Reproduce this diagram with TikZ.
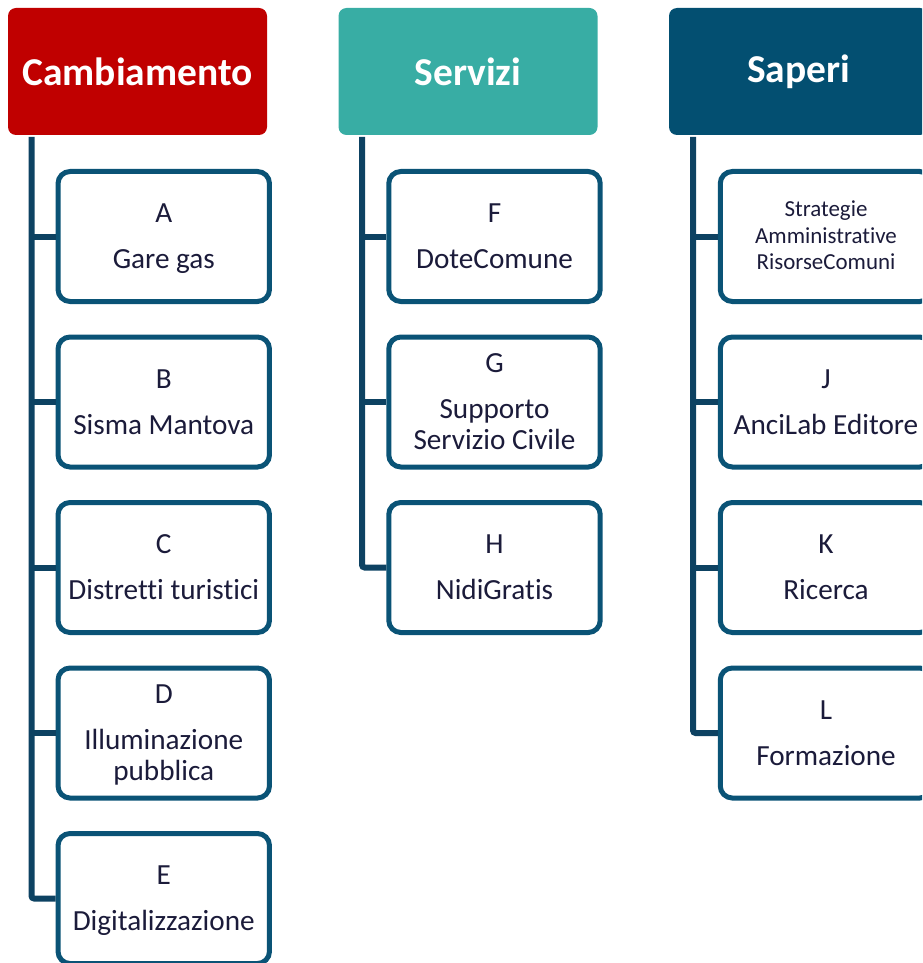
\documentclass[tikz,border=0pt]{standalone}
\usepackage{fontspec}
\setmainfont{Carlito}[Ligatures={NoCommon}]
\definecolor{redc}{HTML}{C00000}
\definecolor{tealc}{HTML}{38ADA4}
\definecolor{bluec}{HTML}{034F71}
\definecolor{bordc}{HTML}{0A5376}
\definecolor{spinec}{HTML}{0D4262}
\definecolor{txtc}{HTML}{1B1B3A}
\newcommand\mystrutA{\rule[-2.5pt]{0pt}{18.5pt}}
\newcommand\mystrutB{\rule[-3pt]{0pt}{16pt}}
\newcommand\twol[2]{\smash{#1}\mystrutA\\[11.25pt]\smash{#2}\mystrutA}
\newcommand\threel[3]{\smash{#1}\mystrutA\\[11.25pt]\smash{#2}\mystrutA\\\smash{#3}\mystrutA}
\tikzset{
  hdr/.style={rounded corners=6pt, minimum width=194.25pt, minimum height=95.25pt,
    inner sep=0pt, text=white, font=\bfseries\fontsize{29.6}{32}\selectfont},
  boxst/.style={draw=bordc, line width=3.75pt, rounded corners=9pt, fill=white,
    minimum width=158.6pt, minimum height=97.5pt, inner sep=0pt, align=center,
    text=txtc, font=\fontsize{21.9}{23.25}\selectfont},
  smalltxt/.style={font=\fontsize{17.2}{19.9}\selectfont},
  spine/.style={draw=spinec, line width=4.5pt, rounded corners=2pt}
}
\begin{document}
\begin{tikzpicture}[x=0.75pt, y=-0.75pt]
\useasboundingbox (0,0) rectangle (922,963);
\clip (0,0) rectangle (922,963);
% headers
\node[hdr, fill=redc] (h1) at (137.5,71.5) {Cambiamento};
\node[hdr, fill=tealc] (h2) at (468,71.5) {Servizi};
\node[hdr, fill=bluec] (h3) at (798.5,71.5) {Saperi};
% spine coordinates
\coordinate (s1) at (31.5,137);
\coordinate (s2) at (362,137);
\coordinate (s3) at (693,137);
% column 1
\node[boxst] (bA) at (163.75,236.5) {\twol{A}{Gare gas}};
\node[boxst] (bB) at (163.75,402) {\twol{B}{Sisma Mantova}};
\node[boxst] (bC) at (163.75,567.5) {\twol{C}{Distretti turistici}};
\node[boxst] (bD) at (163.75,733) {\threel{D}{Illuminazione}{pubblica}};
\node[boxst] (bE) at (163.75,898.5) {\twol{E}{Digitalizzazione}};
% column 2
\node[boxst] (bF) at (494.5,236.5) {\twol{F}{DoteComune}};
\node[boxst] (bG) at (494.5,402) {\threel{G}{Supporto}{Servizio Civile}};
\node[boxst] (bH) at (494.5,567.5) {\twol{H}{NidiGratis}};
% column 3
\node[boxst, smalltxt] (bI) at (826,236.5) {\smash{Strategie}\mystrutB\\\smash{Amministrative}\mystrutB\\\smash{RisorseComuni}\mystrutB};
\node[boxst] (bJ) at (826,402) {\twol{J}{AnciLab Editore}};
\node[boxst] (bK) at (826,567.5) {\twol{K}{Ricerca}};
\node[boxst] (bL) at (826,733) {\twol{L}{Formazione}};
% spines
\draw[spine] (s1) |- (bE.west);
\foreach \b in {bA,bB,bC,bD} \draw[spine] (s1 |- \b.west) -- (\b.west);
\draw[spine] (s2) |- (bH.west);
\foreach \b in {bF,bG} \draw[spine] (s2 |- \b.west) -- (\b.west);
\draw[spine] (s3) |- (bL.west);
\foreach \b in {bI,bJ,bK} \draw[spine] (s3 |- \b.west) -- (\b.west);
\end{tikzpicture}
\end{document}
